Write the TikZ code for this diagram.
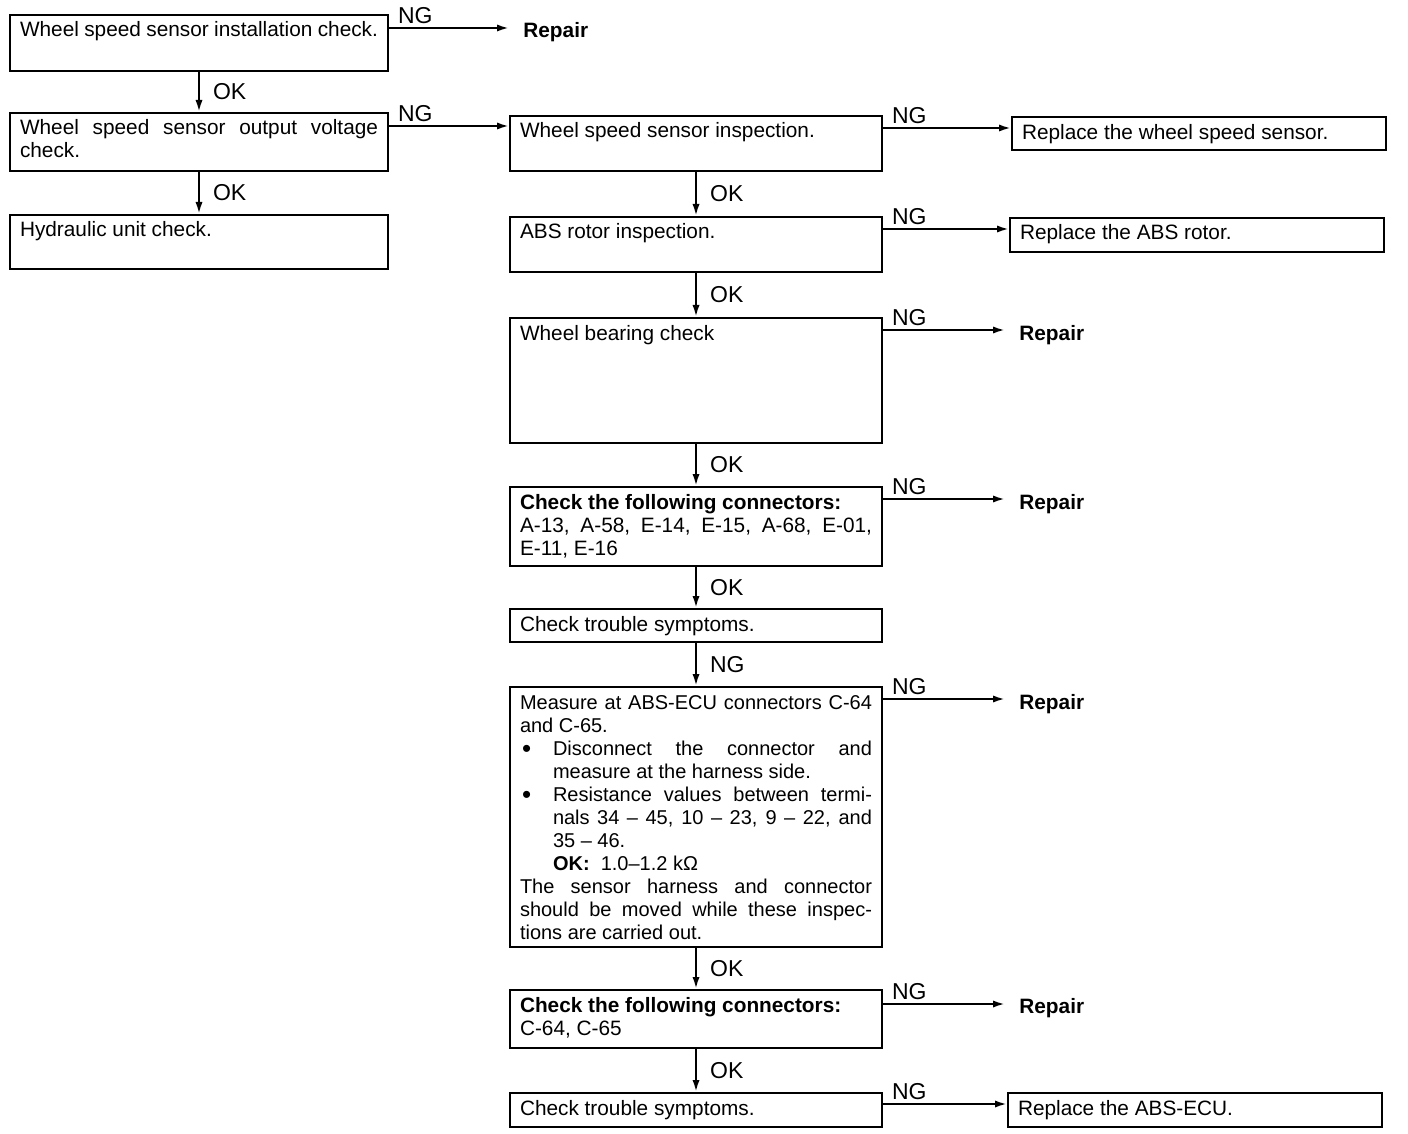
\documentclass[tikz,border=0pt]{standalone}
\usepackage{fontspec}
\setmainfont{Liberation Sans}
\usetikzlibrary{arrows.meta,positioning}
\tikzset{
  fbox/.style  ={draw, line width=1pt, align=justify, inner xsep=5pt, inner ysep=4pt,
                 text height=7pt, font=\fontsize{10.4}{11.5}\selectfont},
  fstep/.style ={fbox, text width=176pt},
  fleft/.style ={fbox, text width=179pt},
  fend/.style  ={fbox, text width=177pt, text depth=2pt},
  frep/.style  ={inner xsep=7pt, font=\fontsize{10.4}{12}\selectfont\bfseries},
  far/.style   ={-{Latex[length=6pt,width=3.6pt]}, line width=1.1pt},
  flab/.style  ={font=\fontsize{11.5}{12}\selectfont, inner sep=1.5pt},
}
\newcommand{\bul}{\hangindent=16.5pt\hangafter=1%
  \makebox[16.5pt][l]{\hspace{1pt}\raisebox{-1.2pt}{\fontsize{13}{10}\selectfont •}}}
\begin{document}
\begin{tikzpicture}
\useasboundingbox (0,0) rectangle (704pt,-567pt);

% left column
\node[fleft, anchor=north west, text depth=13pt] (inst) at (4.5pt,-7pt)
  {Wheel speed sensor installation check.};
\node[fleft, below=20pt of inst, text depth=14pt] (volt)
  {Wheel speed sensor output voltage check.};
\node[fleft, below=21pt of volt, text depth=12pt] (hyd) {Hydraulic unit check.};
\node[frep, right=60pt of inst.north east, yshift=-9pt] (rep0) {Repair};

% right column
\node[fstep, right=60pt of volt.north east, anchor=north west, yshift=-1.5pt,
      text depth=12.5pt] (sens) {Wheel speed sensor inspection.};
\node[fstep, below=22pt of sens, text depth=12.5pt] (rotor) {ABS rotor inspection.};
\node[fstep, below=22pt of rotor, text depth=47.5pt] (bear) {Wheel bearing check};
\node[fstep, below=21pt of bear, text depth=24.5pt] (conA)
  {\textbf{Check the following connectors:}\\
   A-13, A-58, E-14, E-15, A-68, E-01,\linebreak E-11, E-16};
\node[fstep, below=20.5pt of conA, text depth=1.5pt] (symA) {Check trouble symptoms.};
\node[fstep, below=21.5pt of symA, text depth=115pt, font=\fontsize{10}{11.5}\selectfont] (meas)
  {Measure at ABS-ECU connectors C-64\linebreak and C-65.\par
   \bul Disconnect the connector and\linebreak measure at the harness side.\par
   \bul Resistance values between termi-\linebreak nals 34 – 45, 10 – 23, 9 – 22, and\linebreak 35 – 46.\par
   \hspace*{16.5pt}\textbf{OK:}\ \ 1.0–1.2 kΩ\par
   The sensor harness and connector\linebreak should be moved while these inspec-\linebreak tions are carried out.};
\node[fstep, below=20.5pt of meas, text depth=14pt] (conB)
  {\textbf{Check the following connectors:}\\ C-64, C-65};
\node[fstep, below=21.5pt of conB, text depth=2pt] (symB) {Check trouble symptoms.};

% outcomes
\node[fend, right=64pt of sens.north east, yshift=-9.5pt, text depth=1.5pt] (rsens)
  {Replace the wheel speed sensor.};
\node[fend, right=63pt of rotor.north east, yshift=-9.5pt] (rrot) {Replace the ABS rotor.};
\node[frep, right=61pt of bear.north east, yshift=-9pt] (rep1) {Repair};
\node[frep, right=61pt of conA.north east, yshift=-9pt] (rep2) {Repair};
\node[frep, right=61pt of meas.north east, yshift=-9pt] (rep3) {Repair};
\node[frep, right=61pt of conB.north east, yshift=-9.5pt] (rep4) {Repair};
\node[fend, right=62pt of symB.north east, yshift=-9pt] (recu) {Replace the ABS-ECU.};

% OK paths
\draw[far] (inst) -- node[flab, right=5pt] {OK} (volt);
\draw[far] (volt) -- node[flab, right=5pt] {OK} (hyd);
\draw[far] (sens) -- node[flab, right=5pt] {OK} (rotor);
\draw[far] (rotor) -- node[flab, right=5pt] {OK} (bear);
\draw[far] (bear) -- node[flab, right=5pt] {OK} (conA);
\draw[far] (conA) -- node[flab, right=5pt] {OK} (symA);
\draw[far] (symA) -- node[flab, right=5pt] {NG} (meas);
\draw[far] (meas) -- node[flab, right=5pt] {OK} (conB);
\draw[far] (conB) -- node[flab, right=5pt] {OK} (symB);

% NG paths
\draw[far] ([yshift=-7pt]inst.north east) -- node[flab, above right, pos=0, xshift=2.5pt] {NG}
  ([yshift=2pt]rep0.west);
\draw[far] ([yshift=-7pt]volt.north east) -- node[flab, above right, pos=0, xshift=2.5pt] {NG}
  ([yshift=-5.5pt]sens.north west);
\draw[far] ([yshift=-6.5pt]sens.north east) -- node[flab, above right, pos=0, xshift=2.5pt] {NG}
  ([yshift=3pt]rsens.west);
\draw[far] ([yshift=-6.5pt]rotor.north east) -- node[flab, above right, pos=0, xshift=2.5pt] {NG}
  ([yshift=3pt]rrot.west);
\draw[far] ([yshift=-6.5pt]bear.north east) -- node[flab, above right, pos=0, xshift=2.5pt] {NG}
  ([yshift=2.5pt]rep1.west);
\draw[far] ([yshift=-6.5pt]conA.north east) -- node[flab, above right, pos=0, xshift=2.5pt] {NG}
  ([yshift=2.5pt]rep2.west);
\draw[far] ([yshift=-6.5pt]meas.north east) -- node[flab, above right, pos=0, xshift=2.5pt] {NG}
  ([yshift=2.5pt]rep3.west);
\draw[far] ([yshift=-7.5pt]conB.north east) -- node[flab, above right, pos=0, xshift=2.5pt] {NG}
  ([yshift=2pt]rep4.west);
\draw[far] ([yshift=-6pt]symB.north east) -- node[flab, above right, pos=0, xshift=2.5pt] {NG}
  ([yshift=3pt]recu.west);

\end{tikzpicture}
\end{document}
